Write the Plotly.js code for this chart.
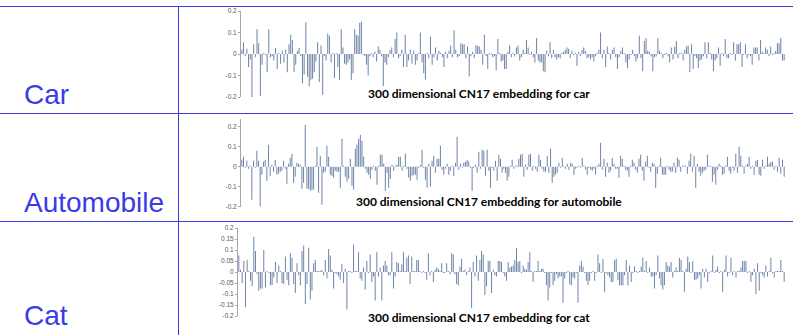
<!DOCTYPE html>
<html>
<head>
<meta charset="utf-8">
<script src="https://cdn.plot.ly/plotly-3.0.1.min.js"></script>
<style>html,body{margin:0;padding:0;background:#fff;}#chart{width:793px;height:335px;}</style>
</head>
<body>
<div id="chart"></div>
<script>
// ---- data ----
const rowLabels = ["Car", "Automobile", "Cat"];
const chartTitles = [
  "300 dimensional CN17 embedding for car",
  "300 dimensional CN17 embedding for automobile",
  "300 dimensional CN17 embedding for cat"
];
const tickVals12 = [-0.2, -0.1, 0, 0.1, 0.2];
const tickText12 = ["-0.2", "-0.1", "0", "0.1", "0.2"];
const tickVals3 = [-0.2, -0.15, -0.1, -0.05, 0, 0.05, 0.1, 0.15, 0.2];
const tickText3 = ["-0.2", "-0.15", "-0.1", "-0.05", "0", "0.05", "0.1", "0.15", "0.2"];

const carVals = [
0.02,0.055,-0.01,0.025,-0.06,-0.025,-0.2,0.045,-0.015,0.115,
0.05,-0.195,-0.05,0.005,-0.005,-0.085,0.115,-0.015,-0.01,-0.03,
0.028,-0.07,0.005,-0.045,0.015,-0.04,0.02,-0.085,0.045,0.09,
0.065,-0.085,-0.05,0.015,0.028,-0.01,-0.135,-0.095,0.148,-0.105,
-0.15,-0.12,-0.115,-0.085,-0.035,0.055,-0.13,0.04,-0.19,-0.01,
-0.03,0.095,0.085,-0.04,0.005,-0.11,0.005,-0.06,-0.12,0.115,
0.03,-0.045,-0.05,-0.04,-0.025,-0.12,-0.09,0.115,0.09,0.085,
0.145,0.15,-0.005,-0.01,-0.05,
-0.1,-0.01,0.005,-0.015,0.01,-0.035,0.035,0.02,-0.01,-0.15,
-0.04,-0.05,-0.015,0.02,0.03,-0.015,0.07,0.1,-0.02,-0.01,
0.02,-0.06,0.09,-0.06,-0.03,0.02,-0.045,0.015,-0.05,-0.03,
0.005,0.1,-0.04,-0.09,-0.12,0.005,-0.02,0.08,-0.05,-0.015,
0.03,-0.03,0.015,0.005,-0.015,-0.06,0.01,-0.02,0.015,0.04,
-0.015,0.11,0.02,-0.015,-0.01,0.05,0.045,0.045,-0.02,0.035,
-0.105,-0.01,0.01,-0.02,0.04,0.04,0.035,0.02,-0.05,0.09,
-0.01,-0.07,0.005,-0.005,-0.015,-0.01,-0.075,0.07,0.005,-0.035,
-0.03,-0.07,
-0.07,0.01,0.04,-0.015,0.005,-0.01,0.03,0.04,-0.03,-0.015,
0.02,0.005,0.065,0.03,-0.005,0.01,-0.015,-0.04,0.075,-0.03,
-0.04,-0.04,-0.08,-0.085,0.015,-0.01,0.055,-0.02,0.02,-0.015,
-0.025,-0.015,-0.02,0.005,0.01,0.02,0.03,0.025,-0.02,0.015,
-0.005,0.005,-0.055,0.01,-0.01,0.02,0.03,0.015,-0.02,-0.015,
-0.025,-0.015,-0.035,-0.01,0.005,0.02,0.1,-0.02,0.02,-0.06,
0.035,0.005,-0.025,0.02,0.03,-0.015,-0.07,-0.015,0.015,0.03,
0.005,-0.04,-0.065,-0.025,-0.005,0.02,-0.01,-0.035,-0.02,0.085,
-0.02,-0.08,0.06,
0.075,0.015,0.01,-0.01,-0.08,-0.015,-0.01,0.075,0.015,0.005,
-0.02,-0.005,0.005,-0.01,-0.04,0.03,-0.025,0.035,0.06,-0.02,
0.005,0.005,-0.03,0.02,0.035,0.04,-0.085,0.045,-0.07,-0.01,
-0.02,-0.065,-0.03,-0.025,-0.01,0.055,-0.02,0.055,0.005,-0.025,
-0.08,-0.03,-0.02,0.03,-0.055,0.005,-0.01,0.07,-0.02,-0.02,
0.005,-0.005,0.055,-0.03,0.045,0.045,0.055,-0.06,-0.005,0.045,
-0.02,-0.005,-0.01,-0.05,0.03,0.03,0.03,-0.03,0.065,0.01,
0.005,0.03,0.02,-0.01,0.035,-0.005,0.005,0.015,0.05,0.05,
0.075,-0.03,-0.03
];

const autoVals = [
0.035,0.05,-0.005,0.03,-0.01,0.005,-0.165,0.03,-0.005,0.08,
0.03,-0.2,-0.04,0.025,0.035,-0.07,0.11,-0.045,0.01,-0.025,
0.035,-0.04,-0.035,-0.025,-0.02,0.03,-0.01,-0.085,0.015,0.045,
0.065,-0.08,-0.05,0.02,0.015,0.01,-0.11,-0.08,0.21,-0.11,
-0.11,-0.12,-0.115,-0.115,0.005,0.1,-0.13,0.055,-0.19,-0.03,
-0.025,0.105,0.05,-0.04,-0.045,-0.055,-0.02,-0.025,-0.025,-0.105,
0.14,0.005,-0.05,-0.075,-0.06,0.04,-0.095,-0.115,0.09,0.11,
0.14,0.16,0.13,0.05,-0.01,-0.03,
-0.04,-0.06,-0.015,0.005,-0.02,-0.09,0.005,0.06,0.06,0.015,
-0.12,-0.03,-0.105,-0.06,0.01,-0.02,0.005,0.01,0.05,0.05,
-0.02,0.005,0.065,-0.01,-0.055,-0.07,-0.045,-0.04,-0.04,-0.065,
-0.005,0.01,0.085,-0.005,-0.065,-0.105,0.015,-0.1,0.03,0.055,
-0.03,0.04,0.04,0.105,-0.015,-0.04,-0.01,0.015,-0.04,-0.02,
0.005,-0.045,0.02,0.15,-0.015,0.015,-0.005,0.02,0.025,0.035,
0.025,-0.005,-0.12,-0.005,0.01,-0.03,0.075,-0.01,0.085,0.08,
-0.045,0.085,-0.02,-0.105,-0.005,-0.02,0.03,-0.07,0.06,0.04,
-0.03,-0.01,-0.03,-0.07,
-0.05,0.005,0.035,-0.01,0.005,0.005,0.04,0.06,0.065,-0.05,
0.01,-0.015,0.06,0.065,-0.02,0.005,-0.01,-0.025,0.06,0.035,
-0.01,-0.025,-0.025,0.055,-0.03,0.09,-0.08,-0.05,-0.04,-0.03,
0.02,-0.005,0.045,0.005,-0.01,0.015,-0.015,0.02,0.015,-0.04,
-0.01,-0.005,0.005,-0.005,0.045,0.005,-0.015,-0.04,-0.005,-0.015,
-0.02,-0.01,-0.04,0.005,0.015,0.12,-0.015,0.04,-0.05,0.02,
-0.03,-0.02,0.045,0.015,-0.01,-0.01,-0.055,0.055,0.04,0.005,
-0.015,-0.02,-0.05,0.005,0.035,0.02,-0.015,-0.03,0.04,0.06,
-0.02,-0.07,0.025,
0.055,-0.005,-0.025,0.02,0.015,-0.105,-0.035,0.005,0.045,-0.04,
-0.04,-0.04,0.005,-0.015,-0.025,-0.025,0.02,-0.03,0.045,0.035,
-0.025,0.005,0.005,0.005,-0.035,0.03,0.065,-0.025,0.055,-0.105,
0.015,-0.025,-0.045,-0.03,-0.02,-0.015,0.06,0.005,0.005,-0.075,
-0.04,-0.09,-0.015,0.015,0.005,-0.04,-0.035,0.005,0.05,-0.02,
-0.035,-0.005,-0.02,0.065,-0.03,0.1,0.055,0.005,-0.035,0.005,
0.015,0.05,-0.01,0.005,-0.04,0.03,0.035,-0.04,-0.045,0.035,
-0.01,0.005,0.05,0.015,0.025,0.025,-0.015,0.005,-0.025,0.045,
-0.035,0.035,-0.05
];

const catVals = [
0.075,0.01,-0.05,0.05,-0.16,0.055,0.005,-0.04,-0.065,0.16,
0.095,-0.01,-0.085,-0.075,-0.075,0.1,-0.07,0.005,-0.005,-0.06,
-0.06,-0.025,0.045,-0.05,0.03,0.005,-0.05,-0.055,0.07,-0.035,
-0.06,0.085,0.065,-0.055,-0.095,0.04,-0.015,-0.06,0.095,0.12,
-0.145,-0.055,0.11,-0.125,-0.085,0.04,0.055,0.005,0.005,0.005,
0.01,-0.015,0.055,-0.03,0.105,0.075,0.01,-0.075,-0.005,-0.01,
-0.02,-0.035,0.035,-0.05,0.015,-0.17,0.005,0.005,-0.005,0.125,
0.005,0.005,0.09,-0.03,-0.04,0.02,-0.08,0.05,-0.005,0.08,
-0.045,-0.02,
-0.13,0.09,-0.02,0.02,-0.13,0.03,0.05,0.03,-0.015,-0.015,
0.09,-0.075,-0.02,0.045,0.04,0.005,0.035,0.09,0.005,0.065,
0.075,-0.055,0.07,0.005,0.005,0.055,0.055,0.005,-0.005,0.005,
-0.005,-0.035,0.085,-0.015,0.005,-0.045,0.01,0.02,0.015,0.005,
0.04,-0.005,-0.005,0.04,0.005,-0.01,0.085,0.08,-0.01,-0.055,
-0.06,0.025,0.06,0.005,0.01,-0.015,0.005,0.02,-0.165,0.045,
-0.02,0.075,-0.04,0.055,0.095,0.08,-0.105,-0.065,0.05,0.05,
-0.095,0.01,-0.015,-0.02,0.05,0.05,0.045,-0.005,-0.02,-0.04,
0.045,
0.02,0.025,0.03,0.055,0.11,0.045,0.05,-0.005,0.03,0.015,
0.01,0.045,0.09,0.005,-0.045,0.005,0.005,0.05,0.005,0.015,
0.015,-0.005,-0.06,-0.13,-0.07,-0.005,-0.06,-0.04,-0.01,-0.03,
-0.02,-0.02,-0.14,-0.03,-0.005,0.005,-0.055,-0.06,-0.025,-0.03,
-0.005,-0.14,0.03,0.05,0.025,-0.005,-0.04,-0.06,-0.04,-0.005,
0.005,-0.04,-0.005,0.08,0.04,-0.005,0.06,-0.09,-0.005,-0.015,
-0.025,-0.045,-0.045,0.055,0.06,-0.035,-0.06,-0.06,-0.06,-0.015,
0.055,-0.06,0.03,-0.045,-0.005,0.025,0.005,-0.005,0.005,0.025,
0.065,0.005,
0.05,-0.005,0.02,-0.02,-0.02,-0.075,-0.015,0.075,-0.03,-0.06,
-0.08,-0.06,0.045,0.03,0.025,0.045,-0.025,0.005,0.02,0.005,
0.065,0.055,0.005,-0.09,0.015,0.07,0.045,-0.005,0.05,-0.035,
-0.035,-0.03,-0.015,-0.075,0.015,-0.025,0.015,-0.045,-0.005,0.005,
0.075,-0.005,0.01,0.025,-0.005,0.005,-0.09,0.01,0.075,-0.02,
-0.005,0.065,-0.015,0.005,-0.025,0.005,0.005,0.02,0.05,0.05,
0.05,-0.005,0.005,-0.045,-0.015,0.015,-0.1,0.04,-0.085,-0.005,
-0.015,-0.025,0.03,-0.02,0.005,0.065,-0.005,-0.025,0.005,0.005,
0.005,0.055,0.005,-0.045
];

// ---- layout helpers ----
const W = 793, H = 335;
const fx = p => p / W;
const fy = p => 1 - p / H;
const idx = arr => arr.map((_, i) => i + 1);

const barColor = "#6d84a8";
const series = [carVals, autoVals, catVals];
const traces = series.map((vals, k) => ({
  type: "bar",
  x: idx(vals),
  y: vals,
  xaxis: k === 0 ? "x" : "x" + (k + 1),
  yaxis: k === 0 ? "y" : "y" + (k + 1),
  marker: {color: barColor, line: {width: 0}},
  hoverinfo: "skip",
  showlegend: false
}));

const xa = (vals, l, r, anchor) => ({
  domain: [fx(l), fx(r)],
  range: [0.5, vals.length + 0.5],
  anchor: anchor,
  showgrid: false, zeroline: false, showline: false,
  showticklabels: false, ticks: ""
});
const ya = (top, bottom, range, tv, tt, anchor) => ({
  domain: [fy(bottom), fy(top)],
  range: range,
  anchor: anchor,
  tickmode: "array", tickvals: tv, ticktext: tt,
  showgrid: false, zeroline: false,
  showline: true, linecolor: "#a6a6a6", linewidth: 1,
  ticks: "outside", ticklen: 2, tickcolor: "#a6a6a6",
  tickfont: {family: "Liberation Sans, Arial, sans-serif", size: 6.5, color: "#595959"},
  fixedrange: true
});

const lineColor = "#3c3ce0";
const shapes = [
  {type: "line", xref: "paper", yref: "paper", x0: 0, x1: 1, y0: fy(6.5), y1: fy(6.5), line: {color: lineColor, width: 1}},
  {type: "line", xref: "paper", yref: "paper", x0: 0, x1: 1, y0: fy(113.5), y1: fy(113.5), line: {color: lineColor, width: 1}},
  {type: "line", xref: "paper", yref: "paper", x0: 0, x1: 1, y0: fy(221.5), y1: fy(221.5), line: {color: lineColor, width: 1}},
  {type: "line", xref: "paper", yref: "paper", x0: fx(178.5), x1: fx(178.5), y0: 0, y1: fy(6.5), line: {color: lineColor, width: 1}}
];

const labelY = [94, 202, 315];
const titleX = [479, 489, 479];
const titleY = [93, 201, 317];
const annotations = [];
rowLabels.forEach((t, k) => annotations.push({
  text: t, xref: "paper", yref: "paper", x: fx(22), y: fy(labelY[k]),
  xanchor: "left", yanchor: "middle", showarrow: false,
  font: {family: "Liberation Sans, Arial, sans-serif", size: 28, color: "#3b3be6"}
}));
chartTitles.forEach((t, k) => annotations.push({
  text: "<b>" + t + "</b>", xref: "paper", yref: "paper", x: fx(titleX[k]), y: fy(titleY[k]),
  xanchor: "center", yanchor: "middle", showarrow: false,
  font: {family: "Lato, Open Sans, sans-serif", size: 12, color: "#000000"}
}));

const layout = {
  width: W, height: H,
  margin: {l: 0, r: 0, t: 0, b: 0, pad: 0},
  paper_bgcolor: "#ffffff", plot_bgcolor: "rgba(0,0,0,0)",
  bargap: 0.4,
  showlegend: false,
  xaxis: xa(carVals, 241, 785, "y"),
  yaxis: ya(11, 97, [-0.2, 0.2], tickVals12, tickText12, "x"),
  xaxis2: xa(autoVals, 241, 785, "y2"),
  yaxis2: ya(118.7, 206.7, [-0.2, 0.24], tickVals12, tickText12, "x2"),
  xaxis3: xa(catVals, 238, 785, "y3"),
  yaxis3: ya(228, 316, [-0.2, 0.2], tickVals3, tickText3, "x3"),
  shapes: shapes,
  annotations: annotations
};

Plotly.newPlot("chart", traces, layout, {staticPlot: true, displayModeBar: false});
</script>
</body>
</html>
